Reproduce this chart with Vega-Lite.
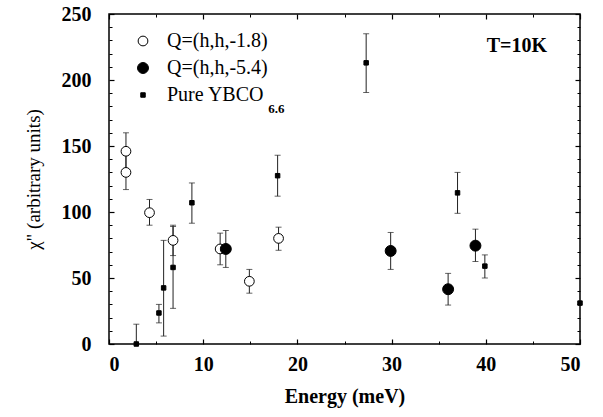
{
  "$schema": "https://vega.github.io/schema/vega-lite/v6.json",
  "width": 471,
  "height": 330,
  "autosize": {"type": "none"},
  "padding": {"left": 109, "top": 14, "right": 23, "bottom": 73},
  "background": "white",
  "config": {
    "view": {"stroke": "black", "strokeWidth": 1.5},
    "axis": {"labelColor": "black", "titleColor": "black", "tickColor": "black", "grid": false, "domain": false}
  },
  "datasets": {
    "points": [
      {"series": "Q=(h,h,-1.8)", "E": 1.8, "chi": 146, "lo": 132, "hi": 160},
      {"series": "Q=(h,h,-1.8)", "E": 1.8, "chi": 130, "lo": 117, "hi": 143},
      {"series": "Q=(h,h,-1.8)", "E": 4.3, "chi": 99.5, "lo": 90, "hi": 109.5},
      {"series": "Q=(h,h,-1.8)", "E": 6.8, "chi": 78.5, "lo": 67, "hi": 90},
      {"series": "Q=(h,h,-1.8)", "E": 11.8, "chi": 72, "lo": 60, "hi": 84},
      {"series": "Q=(h,h,-1.8)", "E": 14.9, "chi": 47.5, "lo": 38.5, "hi": 56.5},
      {"series": "Q=(h,h,-1.8)", "E": 18.0, "chi": 80, "lo": 71, "hi": 88.5},
      {"series": "Q=(h,h,-5.4)", "E": 12.4, "chi": 72, "lo": 58, "hi": 86},
      {"series": "Q=(h,h,-5.4)", "E": 29.9, "chi": 70.5, "lo": 56.5, "hi": 84.5},
      {"series": "Q=(h,h,-5.4)", "E": 36.0, "chi": 41.5, "lo": 29.5, "hi": 53.5},
      {"series": "Q=(h,h,-5.4)", "E": 38.9, "chi": 74.5, "lo": 62.5, "hi": 87},
      {"series": "Pure YBCO", "E": 2.9, "chi": 0, "lo": -15, "hi": 15},
      {"series": "Pure YBCO", "E": 5.3, "chi": 23.5, "lo": 16, "hi": 30},
      {"series": "Pure YBCO", "E": 5.8, "chi": 42.5, "lo": 6, "hi": 78.5},
      {"series": "Pure YBCO", "E": 6.8, "chi": 58, "lo": 27, "hi": 89},
      {"series": "Pure YBCO", "E": 8.8, "chi": 107, "lo": 91.5, "hi": 122},
      {"series": "Pure YBCO", "E": 17.9, "chi": 127.5, "lo": 112, "hi": 143},
      {"series": "Pure YBCO", "E": 27.3, "chi": 213, "lo": 190.5, "hi": 235},
      {"series": "Pure YBCO", "E": 37.0, "chi": 114.5, "lo": 99, "hi": 130},
      {"series": "Pure YBCO", "E": 39.9, "chi": 59, "lo": 50, "hi": 67.5},
      {"series": "Pure YBCO", "E": 50.0, "chi": 31, "lo": null, "hi": null}
    ],
    "notes": [
      {"label": "T=10K", "E": 40.1, "chi": 221}
    ],
    "subs": [
      {"label": "6.6", "E": 16.9, "chi": 175}
    ]
  },
  "resolve": {"axis": {"x": "independent", "y": "independent"}},
  "layer": [
    {
      "data": {"name": "points"},
      "mark": {"type": "rule", "color": "#222", "strokeWidth": 1, "clip": true},
      "encoding": {
        "x": {"field": "E", "type": "quantitative", "scale": {"domain": [0, 50], "nice": false, "zero": false},
          "axis": {"orient": "bottom", "values": [0, 10, 20, 30, 40, 50], "ticks": false, "labelFont": "serif", "labelFontSize": 20, "labelFontWeight": "bold", "labelPadding": 10, "title": "Energy (meV)", "titleFont": "serif", "titleFontSize": 20, "titleFontWeight": "bold", "titlePadding": 12}},
        "y": {"field": "lo", "type": "quantitative", "scale": {"domain": [0, 250], "nice": false, "zero": false},
          "axis": {"orient": "left", "values": [0, 50, 100, 150, 200, 250], "ticks": false, "labelFont": "serif", "labelFontSize": 20, "labelFontWeight": "bold", "labelPadding": 18, "title": "χ\" (arbitrary units)", "titleFont": "serif", "titleFontSize": 19, "titleFontWeight": "normal", "titlePadding": 18}},
        "y2": {"field": "hi"}
      }
    },
    {
      "data": {"name": "points"},
      "mark": {"type": "tick", "orient": "horizontal", "color": "#222", "size": 6, "thickness": 1, "clip": true},
      "encoding": {
        "x": {"field": "E", "type": "quantitative", "axis": {"orient": "bottom", "values": [0, 10, 20, 30, 40, 50], "labels": false, "tickSize": -5, "tickWidth": 1.2, "title": null}},
        "y": {"field": "lo", "type": "quantitative", "axis": {"orient": "left", "values": [0, 50, 100, 150, 200, 250], "labels": false, "tickSize": -5, "tickWidth": 1.2, "title": null}}
      }
    },
    {
      "data": {"name": "points"},
      "mark": {"type": "tick", "orient": "horizontal", "color": "#222", "size": 6, "thickness": 1, "clip": true},
      "encoding": {
        "x": {"field": "E", "type": "quantitative", "axis": {"orient": "top", "values": [0, 10, 20, 30, 40, 50], "labels": false, "tickSize": -5, "tickWidth": 1.2, "title": null}},
        "y": {"field": "hi", "type": "quantitative", "axis": {"orient": "right", "values": [0, 50, 100, 150, 200, 250], "labels": false, "tickSize": -5, "tickWidth": 1.2, "title": null}}
      }
    },
    {
      "data": {"name": "points"},
      "mark": {"type": "point", "stroke": "black", "strokeWidth": 1, "opacity": 1},
      "encoding": {
        "x": {"field": "E", "type": "quantitative", "axis": {"orient": "bottom", "values": [5, 15, 25, 35, 45], "labels": false, "tickSize": -3, "tickWidth": 1, "title": null}},
        "y": {"field": "chi", "type": "quantitative", "axis": {"orient": "left", "values": [10, 20, 30, 40, 60, 70, 80, 90, 110, 120, 130, 140, 160, 170, 180, 190, 210, 220, 230, 240], "labels": false, "tickSize": -3, "tickWidth": 1, "title": null}},
        "shape": {"field": "series", "type": "nominal", "scale": {"domain": ["Q=(h,h,-1.8)", "Q=(h,h,-5.4)", "Pure YBCO"], "range": ["circle", "circle", "square"]},
          "legend": {"orient": "none", "legendX": 24, "legendY": 17, "title": null, "labelFont": "serif", "labelFontSize": 20, "labelColor": "black", "symbolStrokeColor": "black", "symbolStrokeWidth": 1, "rowPadding": 7, "labelOffset": 14}},
        "fill": {"field": "series", "type": "nominal", "scale": {"domain": ["Q=(h,h,-1.8)", "Q=(h,h,-5.4)", "Pure YBCO"], "range": ["white", "black", "black"]}},
        "size": {"field": "series", "type": "nominal", "scale": {"type": "ordinal", "domain": ["Q=(h,h,-1.8)", "Q=(h,h,-5.4)", "Pure YBCO"], "range": [95, 120, 20]}}
      }
    },
    {
      "data": {"name": "notes"},
      "mark": {"type": "text", "font": "serif", "fontSize": 20, "fontWeight": "bold", "align": "left", "baseline": "alphabetic", "color": "black"},
      "encoding": {
        "text": {"field": "label"},
        "x": {"field": "E", "type": "quantitative", "axis": {"orient": "top", "values": [5, 15, 25, 35, 45], "labels": false, "tickSize": -3, "tickWidth": 1, "title": null}},
        "y": {"field": "chi", "type": "quantitative", "axis": {"orient": "right", "values": [10, 20, 30, 40, 60, 70, 80, 90, 110, 120, 130, 140, 160, 170, 180, 190, 210, 220, 230, 240], "labels": false, "tickSize": -3, "tickWidth": 1, "title": null}}
      }
    },
    {
      "data": {"name": "subs"},
      "mark": {"type": "text", "font": "serif", "fontSize": 13, "fontWeight": "bold", "align": "left", "baseline": "alphabetic", "color": "black"},
      "encoding": {
        "text": {"field": "label"},
        "x": {"field": "E", "type": "quantitative", "axis": null},
        "y": {"field": "chi", "type": "quantitative", "axis": null}
      }
    }
  ]
}
